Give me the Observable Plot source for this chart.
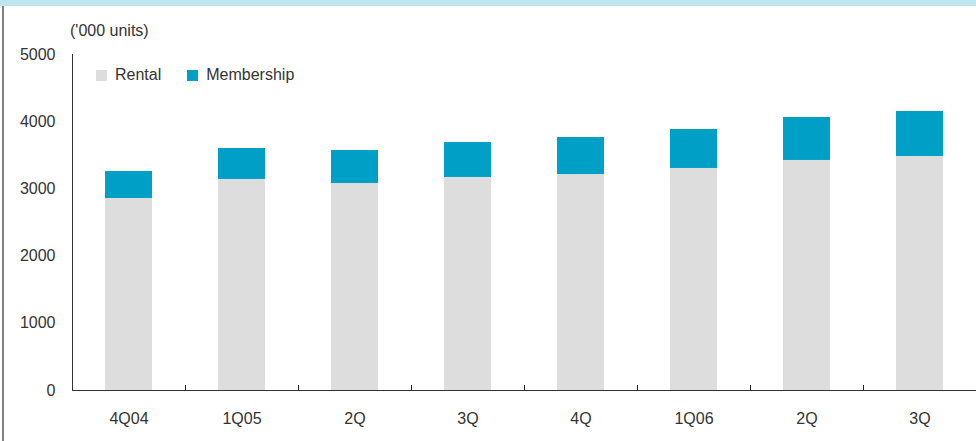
<!DOCTYPE html>
<html><head><meta charset="utf-8">
<script src="https://cdn.jsdelivr.net/npm/d3@7"></script>
<script src="https://cdn.jsdelivr.net/npm/@observablehq/plot@0.6"></script>
<style>
body{margin:0;background:#fff;font-family:"Liberation Sans",Arial,sans-serif;}
#wrap{position:relative;width:976px;height:441px;overflow:hidden;}
#band{position:absolute;left:0;top:0;width:976px;height:6px;background:#bfe6f0;}
#border{position:absolute;left:2px;top:6px;width:2px;height:435px;background:#808080;}
#unit{position:absolute;left:70px;top:23px;font-size:16px;line-height:16px;color:#333;}
#legend{position:absolute;left:96px;top:67px;font-size:16px;line-height:16px;color:#333;display:flex;align-items:center;}
#legend .sw{display:inline-block;width:11px;height:11px;margin-right:8px;}
#legend .item{display:flex;align-items:center;margin-right:26px;}
#chart{position:absolute;left:0;top:0;}
</style></head>
<body>
<div id="wrap">
  <div id="chart"></div>
  <div id="band"></div>
  <div id="border"></div>
  <div id="unit">('000 units)</div>
  <div id="legend"></div>
</div>
<script>
const periods = ["4Q04","1Q05","2Q05","3Q05","4Q05","1Q06","2Q06","3Q06"];
const tickLabels = ["4Q04","1Q05","2Q","3Q","4Q","1Q06","2Q","3Q"];
const rental = [2857, 3140, 3080, 3170, 3214, 3304, 3423, 3482];
const membership = [402, 461, 491, 520, 551, 580, 640, 670];
const seriesNames = ["Rental","Membership"];
const seriesColors = ["#dddddd","#00a0c6"];
const yTicks = [0,1000,2000,3000,4000,5000];

const table = [];
periods.forEach((p,i)=>{
  table.push({period:p, series:"Rental", value:rental[i]});
  table.push({period:p, series:"Membership", value:membership[i]});
});
const labelOf = Object.fromEntries(periods.map((p,i)=>[p,tickLabels[i]]));
const padInner = 0.58, padOuter = 0.29;
const step = (976-72)/(periods.length - padInner + 2*padOuter);
const bw = step*(1-padInner);

const chart = Plot.plot({
  width: 976,
  height: 441,
  marginTop: 54,
  marginBottom: 51,
  marginLeft: 72,
  marginRight: 0,
  style: {fontFamily: '"Liberation Sans", Arial, sans-serif', fontSize: "16px", color: "#333", background: "transparent"},
  x: {domain: periods, paddingInner: padInner, paddingOuter: padOuter, tickFormat: d=>labelOf[d], tickSize: 0, tickPadding: 22, label: null, line: true},
  y: {domain: [0,5000], ticks: yTicks, tickFormat: "d", tickSize: 0, tickPadding: 17, label: null, line: true},
  color: {domain: seriesNames, range: seriesColors},
  marks: [
    Plot.barY(table, {x: "period", y: "value", fill: "series"}),
    Plot.ruleX(periods.slice(0,-1), {x: d=>d, y1: 0, y2: 0, dx: step/2, insetTop: -5, stroke: "#222"}),
    Plot.tickY(yTicks, {y: d=>d, x: periods[0], dx: -(step*padOuter), insetRight: bw-5, stroke: "#222"})
  ]
});
document.getElementById("chart").appendChild(chart);

const lg = document.getElementById("legend");
seriesNames.forEach((s,i)=>{
  const it = document.createElement("div"); it.className="item";
  const sw = document.createElement("span"); sw.className="sw"; sw.style.background=seriesColors[i];
  it.appendChild(sw); it.appendChild(document.createTextNode(s));
  lg.appendChild(it);
});
</script>
</body></html>
